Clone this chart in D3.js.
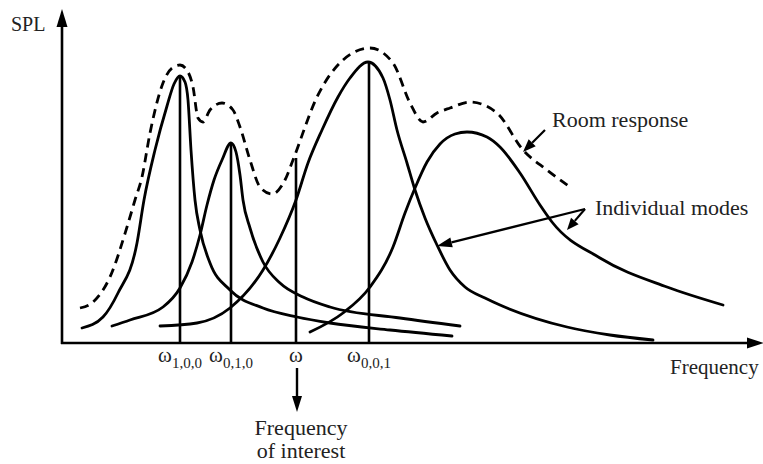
<!DOCTYPE html>
<html>
<head>
<meta charset="utf-8">
<script src="https://cdn.jsdelivr.net/npm/d3@7"></script>
<style>
  html, body { margin: 0; padding: 0; background: #fff; }
  svg { display: block; }
  text { font-family: "Liberation Serif", "Times New Roman", serif; fill: #222; }
</style>
</head>
<body>
<svg id="chart" width="763" height="464"></svg>
<script>
// ---- data (frequency, SPL) in arbitrary units ----
const mode100 = [[20,15],[41,26],[56,50],[75,100],[82,143],[93,193],[105,237],[112,259],[118,267],[123,261],[126,243],[129,193],[133,143],[138,113],[148,80],[168,53],[201,35],[235,26],[268,20],[328,13],[390,7]];
const mode010 = [[50,17],[68,23],[101,36],[118,55],[130,81],[138,108],[145,138],[152,163],[160,183],[169,200],[174,191],[178,168],[181,143],[188,115],[201,81],[218,60],[241,46],[268,36],[338,25],[398,17]];
const mode001 = [[98,17],[135,20],[168,35],[201,73],[218,105],[234,143],[246,180],[260,213],[276,246],[288,265],[306,281],[321,265],[328,243],[335,213],[345,180],[353,153],[363,125],[375,98],[388,73],[403,56],[423,45],[438,38],[505,16],[548,8],[591,3]];
const modeHigh = [[248,11],[281,30],[308,56],[331,96],[343,130],[353,155],[365,181],[378,199],[393,209],[405,211],[425,206],[438,196],[458,170],[478,138],[490,121],[538,85],[605,56],[661,38]];
const roomResponse = [[18,35],[31,41],[48,66],[65,116],[73,143],[80,166],[88,210],[101,260],[110,275],[118,278],[126,271],[131,256],[136,225],[141,221],[148,233],[160,240],[171,233],[178,216],[188,183],[198,156],[210,149],[223,163],[231,183],[255,246],[281,283],[308,295],[331,280],[348,240],[361,221],[375,230],[388,235],[408,241],[435,230],[461,193],[485,173],[508,156]];
const markerFreqs = [118, 169, 234, 307];
const markerLevels = [267, 200, 185, 281];
const markerSubs = ["1,0,0", "0,1,0", "", "0,0,1"];

// ---- scales ----
const x = d3.scaleLinear().domain([0, 700]).range([62, 762]);
const y = d3.scaleLinear().domain([0, 333]).range([343, 10]);

const svg = d3.select("#chart");
const line = d3.line().x(d => x(d[0])).y(d => y(d[1])).curve(d3.curveMonotoneX);

// vertical mode lines
svg.append("g").selectAll("line").data(markerFreqs).join("line")
  .attr("x1", d => x(d)).attr("x2", d => x(d))
  .attr("y1", y(0)).attr("y2", (d, i) => y(markerLevels[i]))
  .attr("stroke", "#000").attr("stroke-width", 2.6);

// mode curves
svg.append("g").selectAll("path").data([mode100, mode010, mode001, modeHigh]).join("path")
  .attr("d", line).attr("fill", "none").attr("stroke", "#000")
  .attr("stroke-width", 2.8).attr("stroke-linecap", "round");

// room response (dashed)
svg.append("path").attr("d", line(roomResponse)).attr("fill", "none")
  .attr("stroke", "#000").attr("stroke-width", 2.8).attr("stroke-dasharray", "9,6");

// axes
const axisG = svg.append("g");
axisG.append("line").attr("x1", x(0)).attr("x2", x(0)).attr("y1", y(0) + 1).attr("y2", 22)
  .attr("stroke", "#000").attr("stroke-width", 2.6);
axisG.append("path").attr("d", `M${x(0)},9 L${x(0) - 5.5},27 L${x(0) + 5.5},27 Z`).attr("fill", "#000");
axisG.append("line").attr("x1", x(0) - 1).attr("x2", 752).attr("y1", y(0)).attr("y2", y(0))
  .attr("stroke", "#000").attr("stroke-width", 2.6);
axisG.append("path").attr("d", `M764,${y(0)} L747,${y(0) - 5.5} L747,${y(0) + 5.5} Z`).attr("fill", "#000");

// axis titles
svg.append("text").attr("x", 11).attr("y", 31).attr("font-size", 20).text("SPL");
svg.append("text").attr("x", 670).attr("y", 374).attr("font-size", 21).text("Frequency");

// omega labels
const lab = svg.append("g").selectAll("text").data(markerFreqs).join("text")
  .attr("x", d => x(d)).attr("y", 362).attr("text-anchor", "middle");
lab.append("tspan").attr("font-size", 21).text("ω");
lab.append("tspan").attr("font-size", 15).attr("dy", 6).text((d, i) => markerSubs[i]);

// arrows
function arrow(x1, y1, x2, y2, head = 14, half = 5, w = 2.2) {
  const a = Math.atan2(y2 - y1, x2 - x1);
  const bx = x2 - head * Math.cos(a), by = y2 - head * Math.sin(a);
  svg.append("line").attr("x1", x1).attr("y1", y1).attr("x2", bx).attr("y2", by)
    .attr("stroke", "#000").attr("stroke-width", w);
  const px = -Math.sin(a) * half, py = Math.cos(a) * half;
  svg.append("path").attr("d", `M${x2},${y2} L${bx + px},${by + py} L${bx - px},${by - py} Z`).attr("fill", "#000");
}
arrow(x(234) + 1, 368, x(234) + 1, 412, 16, 5, 2.4);
svg.append("text").attr("x", 301).attr("y", 435).attr("text-anchor", "middle").attr("font-size", 22).text("Frequency");
svg.append("text").attr("x", 301).attr("y", 458).attr("text-anchor", "middle").attr("font-size", 22).text("of interest");

// annotations
svg.append("text").attr("x", 552).attr("y", 127).attr("font-size", 22).text("Room response");
arrow(545, 130, 523, 152, 13, 5, 2.2);
svg.append("text").attr("x", 595).attr("y", 215).attr("font-size", 22).text("Individual modes");
arrow(585, 209, 437, 246, 15, 5, 2.2);
arrow(585, 209, 567, 230, 12, 5, 2.2);
</script>
</body>
</html>
